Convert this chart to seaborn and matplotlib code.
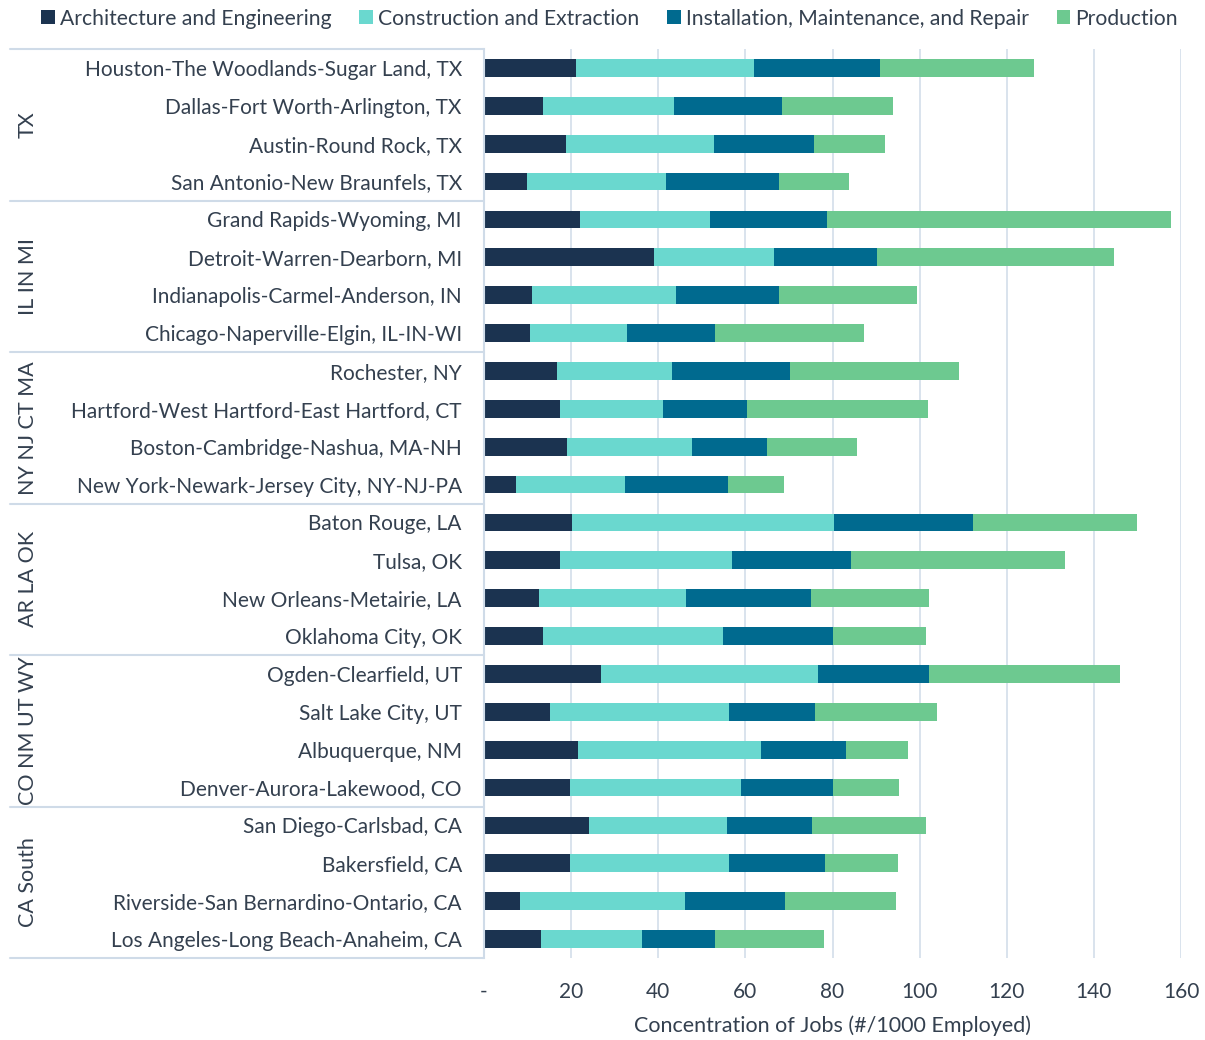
import matplotlib
matplotlib.use("Agg")
import matplotlib.pyplot as plt
import matplotlib.transforms as mtransforms
from matplotlib.lines import Line2D
from matplotlib.patches import Patch
import seaborn as sns
import numpy as np
import pandas as pd

cities = [
    "Houston-The Woodlands-Sugar Land, TX", "Dallas-Fort Worth-Arlington, TX",
    "Austin-Round Rock, TX", "San Antonio-New Braunfels, TX",
    "Grand Rapids-Wyoming, MI", "Detroit-Warren-Dearborn, MI",
    "Indianapolis-Carmel-Anderson, IN", "Chicago-Naperville-Elgin, IL-IN-WI",
    "Rochester, NY", "Hartford-West Hartford-East Hartford, CT",
    "Boston-Cambridge-Nashua, MA-NH", "New York-Newark-Jersey City, NY-NJ-PA",
    "Baton Rouge, LA", "Tulsa, OK", "New Orleans-Metairie, LA", "Oklahoma City, OK",
    "Ogden-Clearfield, UT", "Salt Lake City, UT", "Albuquerque, NM",
    "Denver-Aurora-Lakewood, CO",
    "San Diego-Carlsbad, CA", "Bakersfield, CA",
    "Riverside-San Bernardino-Ontario, CA", "Los Angeles-Long Beach-Anaheim, CA",
]
groups = ["TX", "IL IN MI", "NY NJ CT MA", "AR LA OK", "CO NM UT WY", "CA South"]
group_sizes = [4, 4, 4, 4, 4, 4]

arch = [21.1, 13.5, 18.8, 9.9, 22.0, 39.0, 11.0, 10.6, 16.8, 17.4, 19.1, 7.3,
        20.2, 17.4, 12.6, 13.5, 26.9, 15.2, 21.6, 19.7, 24.1, 19.7, 8.3, 13.1]
constr = [40.9, 30.1, 34.0, 31.9, 29.9, 27.6, 33.1, 22.2, 26.4, 23.7, 28.7, 25.1,
          60.1, 39.5, 33.8, 41.4, 49.8, 41.0, 42.0, 39.3, 31.7, 36.5, 37.8, 23.2]
install = [28.9, 24.8, 23.0, 25.9, 26.8, 23.6, 23.6, 20.2, 27.0, 19.3, 17.2, 23.6,
           32.0, 27.4, 28.7, 25.2, 25.5, 19.8, 19.5, 21.1, 19.5, 22.1, 23.0, 16.7]
production = [35.4, 25.5, 16.3, 16.1, 79.0, 54.4, 31.7, 34.2, 38.8, 41.5, 20.6, 12.9,
              37.6, 49.1, 27.1, 21.4, 43.8, 28.0, 14.2, 15.2, 26.2, 16.7, 25.5, 25.1]
series_names = ["Architecture and Engineering", "Construction and Extraction",
                "Installation, Maintenance, and Repair", "Production"]
colors = ["#1b3350", "#6ad8cf", "#006a8f", "#6dc990"]
xticks = [0, 20, 40, 60, 80, 100, 120, 140, 160]
xtick_labels = ["-", "20", "40", "60", "80", "100", "120", "140", "160"]

text_color = "#34404f"
grid_color = "#d3deea"
line_color = "#cfdbe8"

sns.set_theme(style="white")
plt.rcParams["font.family"] = ["Lato", "DejaVu Sans"]

df = pd.DataFrame({"city": cities, "a": arch, "c": constr, "i": install, "p": production})
df["c1"] = df["a"]
df["c2"] = df["c1"] + df["c"]
df["c3"] = df["c2"] + df["i"]
df["c4"] = df["c3"] + df["p"]

fig = plt.figure(figsize=(12.05, 10.4), dpi=100)
ax = fig.add_axes([484 / 1205, 1 - 958 / 1040, (1181 - 484) / 1205, (958 - 49) / 1040])

for col, color in zip(["c4", "c3", "c2", "c1"], colors[::-1]):
    sns.barplot(data=df, x=col, y="city", orient="h", color=color, width=0.47,
                saturation=1, ax=ax, order=cities, linewidth=0, edgecolor="none")

ax.set_xlim(0, 160)
ax.set_ylim(23.5, -0.5)
ax.set_xticks(xticks)
ax.set_xticklabels(xtick_labels, fontsize=15, color=text_color)
ax.tick_params(axis="x", length=0, pad=17)
ax.tick_params(axis="y", length=0, pad=16, labelsize=15, labelcolor=text_color)
ax.set_ylabel("")
ax.set_xlabel("Concentration of Jobs (#/1000 Employed)", fontsize=15.5, color=text_color, labelpad=10)
ax.xaxis.grid(True, color=grid_color, linewidth=1.2)
ax.set_axisbelow(True)
for s in ["top", "right", "bottom"]:
    ax.spines[s].set_visible(False)
ax.spines["left"].set_color(line_color)
ax.spines["left"].set_linewidth(1.5)

# group separators and labels
trans = mtransforms.blended_transform_factory(fig.transFigure, ax.transData)
bounds = [-0.5]
for n in group_sizes:
    bounds.append(bounds[-1] + n)
for b in bounds:
    fig.add_artist(Line2D([10 / 1205, 484 / 1205], [b, b], transform=trans,
                          color=line_color, linewidth=1.5))
for gi, g in enumerate(groups):
    mid = (bounds[gi] + bounds[gi + 1]) / 2
    fig.text(28 / 1205, mid, g, transform=trans, rotation=90, ha="center", va="center",
             fontsize=15.5, color=text_color)

handles = [Patch(facecolor=c, edgecolor="none") for c in colors]
fig.legend(handles, series_names, loc="center", bbox_to_anchor=(0.506, 0.982), ncol=4,
           frameon=False, fontsize=15.2, handlelength=0.65, handleheight=0.65,
           handletextpad=0.25, columnspacing=1.3, labelcolor=text_color)

fig.savefig("out.png", dpi=100)
